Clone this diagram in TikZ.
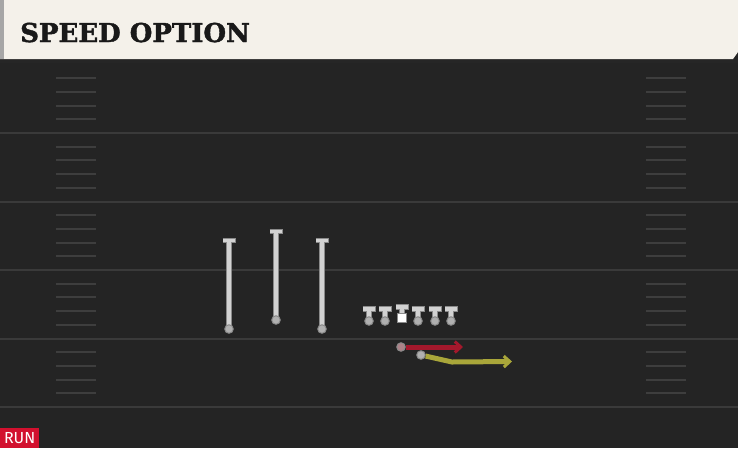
\documentclass[tikz,border=0pt]{standalone}
\usepackage{fontspec}
\newfontfamily\titlefont{DejaVu Serif}[BoldFeatures={FakeBold=1.5}]
\newfontfamily\runfont{Fira Sans}
\usetikzlibrary{arrows.meta}
\definecolor{field}{HTML}{242424}
\definecolor{hdr}{HTML}{F4F1EA}
\definecolor{yard}{HTML}{3A3A3A}
\definecolor{hashc}{HTML}{3E3E3E}
\definecolor{player}{HTML}{D2D2D2}
\definecolor{pedge}{HTML}{8A8A8A}
\definecolor{dotc}{HTML}{B0B0B0}
\definecolor{redroute}{HTML}{A3182C}
\definecolor{yelroute}{HTML}{A9A63A}
\definecolor{runred}{HTML}{D2102E}
\tikzset{
  pdot/.style={circle,fill=dotc,draw=pedge,line width=1pt,inner sep=0pt,minimum size=8.5pt},
  pedgeline/.style={pedge,line width=5.5pt},
  pcore/.style={player,line width=3.8pt},
  redr/.style={redroute,line width=5pt,-{Straight Barb[length=6pt,width=11pt,line width=3pt]}},
  yelr/.style={yelroute,line width=5pt,-{Straight Barb[length=6pt,width=11pt,line width=3pt]}},
  yardline/.style={yard,line width=2pt},
  hashmark/.style={hashc,line width=2pt},
  pic player/.style={},
}
\newcommand{\playerT}[4]{% name, x, ytop, ybottom
  \coordinate (#1t) at (#2,#3);
  \draw[pedgeline] ([xshift=-6.5pt]#1t) -- ([xshift=6.5pt]#1t);
  \draw[pedgeline] (#2,#4) -- (#1t);
  \draw[pcore] ([xshift=-5.8pt]#1t) -- ([xshift=5.8pt]#1t);
  \draw[pcore] (#2,#4) -- (#1t);
}
\begin{document}
\begin{tikzpicture}[x=1pt,y=-1pt]
\useasboundingbox (0,0) rectangle (738,448);
% field
\fill[field] (0,0) rectangle (738,448);
% header
\fill[black!85] (0,58) rectangle (738,63);
\fill[hdr] (0,0) -- (738,0) -- (738,52) -- (733,59) -- (0,59) -- cycle;
\fill[gray!70] (0,0) rectangle (4,59);
\node[anchor=base west,inner sep=0pt,text=black!90] (title) at (20,42)
  {\titlefont\bfseries\fontsize{26}{26}\selectfont SPEED OPTION};
% yard lines
\foreach \y in {133,201.5,270,338.5,407} \draw[yardline] (0,\y) -- (738,\y);
% hash marks
\foreach \k in {0,...,4}{
  \foreach \i in {1,...,4}{
    \pgfmathsetmacro{\yy}{64.5+68.5*\k+13.7*\i}
    \draw[hashmark] (56,\yy) -- (96,\yy);
    \draw[hashmark] (646,\yy) -- (686,\yy);
  }
}
% receivers
\foreach \n/\x/\yt/\yb in {r1/229/240.5/329, r2/276/231.5/320, r3/322/240.5/329}{
  \playerT{\n}{\x}{\yt}{\yb}
  \node[pdot] (\n) at (\x,\yb) {};
}
% offensive line
\foreach \n/\x in {l1/369, l2/385, l4/418, l5/435, l6/451}{
  \playerT{\n}{\x}{309}{321}
  \node[pdot] (\n) at (\x,321) {};
}
\playerT{c}{402}{307}{315}
\node[fill=white,draw=pedge,line width=1pt,minimum size=9pt,inner sep=0pt] (c) at (402,318) {};
% backs and routes
\node[pdot,fill=redroute!30!dotc] (qb) at (401,347) {};
\coordinate (qbend) at (463,347);
\draw[redr] (qb) -- (qbend);
\node[pdot] (rb) at (421,355) {};
\coordinate (rbmid) at (452,362);
\coordinate (rbend) at (512,361.5);
\draw[yelr] (rb) -- (rbmid) -- (rbend);
% RUN label
\node[fill=runred,text=white,anchor=south west,minimum width=39pt,minimum height=20pt,inner sep=0pt,font=\runfont\fontsize{16}{16}\selectfont] (run) at (0,448) {RUN};
\end{tikzpicture}
\end{document}
